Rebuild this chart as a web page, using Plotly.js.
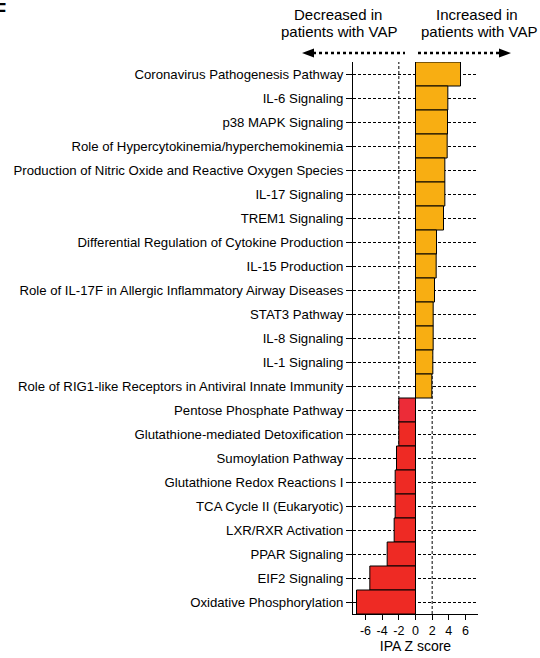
<!DOCTYPE html>
<html>
<head>
<meta charset="utf-8">
<script src="https://cdn.plot.ly/plotly-3.0.1.min.js"></script>
<style>html,body{margin:0;padding:0;background:#fff;}#chart{width:540px;height:658px;}</style>
</head>
<body>
<div id="chart"></div>
<script>
// Pathway names (top to bottom)
var pathways = [
  "Coronavirus Pathogenesis Pathway",
  "IL-6 Signaling",
  "p38 MAPK Signaling",
  "Role of Hypercytokinemia/hyperchemokinemia",
  "Production of Nitric Oxide and Reactive Oxygen Species",
  "IL-17 Signaling",
  "TREM1 Signaling",
  "Differential Regulation of Cytokine Production",
  "IL-15 Production",
  "Role of IL-17F in Allergic Inflammatory Airway Diseases",
  "STAT3 Pathway",
  "IL-8 Signaling",
  "IL-1 Signaling",
  "Role of RIG1-like Receptors in Antiviral Innate Immunity",
  "Pentose Phosphate Pathway",
  "Glutathione-mediated Detoxification",
  "Sumoylation Pathway",
  "Glutathione Redox Reactions I",
  "TCA Cycle II (Eukaryotic)",
  "LXR/RXR Activation",
  "PPAR Signaling",
  "EIF2 Signaling",
  "Oxidative Phosphorylation"
];
// IPA Z scores
var zScores = [5.4, 3.88, 3.84, 3.8, 3.52, 3.52, 3.36, 2.52, 2.48, 2.28, 2.12, 2.12, 2.08, 1.96,
               -2.0, -2.0, -2.28, -2.44, -2.44, -2.56, -3.4, -5.48, -7.08];
var xTicks = [-6, -4, -2, 0, 2, 4, 6];
var refLines = [-2, 2];
var headerLeft = ["Decreased in", "patients with VAP"];
var headerRight = ["Increased in", "patients with VAP"];

var ORANGE = "#F8AE12", RED = "#EE2A24", PINKRED = "#EC2C38";
var colors = zScores.map(function (v, i) {
  if (v > 0) return ORANGE;
  return pathways[i] === "Pentose Phosphate Pathway" ? PINKRED : RED;
});

var FONT = "Liberation Sans, Arial, Helvetica, sans-serif";

// plot area pixel geometry helpers for decorations (paper coords)
var L = 353, R = 478, T = 62, B = 614;
function px(x) { return (x - L) / (R - L); }
function py(y) { return (B - y) / (B - T); }

var shapes = refLines.map(function (v) {
  return {type: "line", xref: "x", yref: "paper", x0: v, x1: v, y0: 0, y1: 1,
          layer: "below", line: {color: "#000", width: 1, dash: "3px,2px"}};
});
var ay = 53;
shapes.push({type: "line", xref: "paper", yref: "paper", x0: px(313), x1: px(405), y0: py(ay), y1: py(ay),
             line: {color: "#000", width: 2.5, dash: "dot"}});
shapes.push({type: "path", xref: "paper", yref: "paper",
             path: "M" + px(302) + "," + py(ay) + " L" + px(314) + "," + py(ay - 4.5) + " L" + px(314) + "," + py(ay + 4.5) + " Z",
             fillcolor: "#000", line: {color: "#000", width: 0}});
shapes.push({type: "line", xref: "paper", yref: "paper", x0: px(418), x1: px(500), y0: py(ay), y1: py(ay),
             line: {color: "#000", width: 2.5, dash: "dot"}});
shapes.push({type: "path", xref: "paper", yref: "paper",
             path: "M" + px(511) + "," + py(ay) + " L" + px(499) + "," + py(ay - 4.5) + " L" + px(499) + "," + py(ay + 4.5) + " Z",
             fillcolor: "#000", line: {color: "#000", width: 0}});

var trace = {
  type: "bar",
  orientation: "h",
  x: zScores,
  y: pathways,
  marker: {color: colors, line: {color: "#000", width: 1}},
  width: 1,
  hoverinfo: "x+y"
};

function hdr(text, cx, cy) {
  return {text: text, xref: "paper", yref: "paper", x: px(cx), y: py(cy),
          xanchor: "center", yanchor: "middle", showarrow: false,
          font: {family: FONT, size: 15, color: "#000"}};
}

var layout = {
  width: 540, height: 658,
  margin: {l: L, r: 540 - R, t: T, b: 658 - B, pad: 0},
  paper_bgcolor: "#fff", plot_bgcolor: "#fff",
  showlegend: false,
  bargap: 0,
  font: {family: FONT, color: "#000", size: 13.2},
  xaxis: {
    range: [-7.5, 7.5], tickvals: xTicks, ticktext: xTicks.map(String),
    showgrid: false, zeroline: false,
    showline: true, linecolor: "#000", linewidth: 1,
    ticks: "outside", ticklen: 5, tickwidth: 1, tickcolor: "#000",
    tickfont: {family: FONT, size: 12.5, color: "#000"},
    title: {text: "IPA Z score", font: {family: FONT, size: 14, color: "#000"}, standoff: 2}
  },
  yaxis: {
    type: "category", autorange: "reversed",
    showgrid: true, gridcolor: "#000", gridwidth: 1, griddash: "3px,2px",
    showline: true, linecolor: "#000", linewidth: 1,
    ticks: "outside", ticklen: 6, tickwidth: 1, tickcolor: "#000",
    tickfont: {family: FONT, size: 13.2, color: "#000"},
    zeroline: false
  },
  shapes: shapes,
  annotations: [
    hdr(headerLeft[0], 338, 14),
    hdr(headerLeft[1], 339, 31),
    hdr(headerRight[0], 477, 14),
    hdr(headerRight[1], 479, 31),
    {text: "<b>F</b>", xref: "paper", yref: "paper", x: px(0), y: py(-3), xanchor: "left", yanchor: "top",
     xshift: -8, showarrow: false, font: {family: FONT, size: 20, color: "#000"}}
  ]
};

Plotly.newPlot("chart", [trace], layout, {displayModeBar: false, staticPlot: true});
</script>
</body>
</html>
